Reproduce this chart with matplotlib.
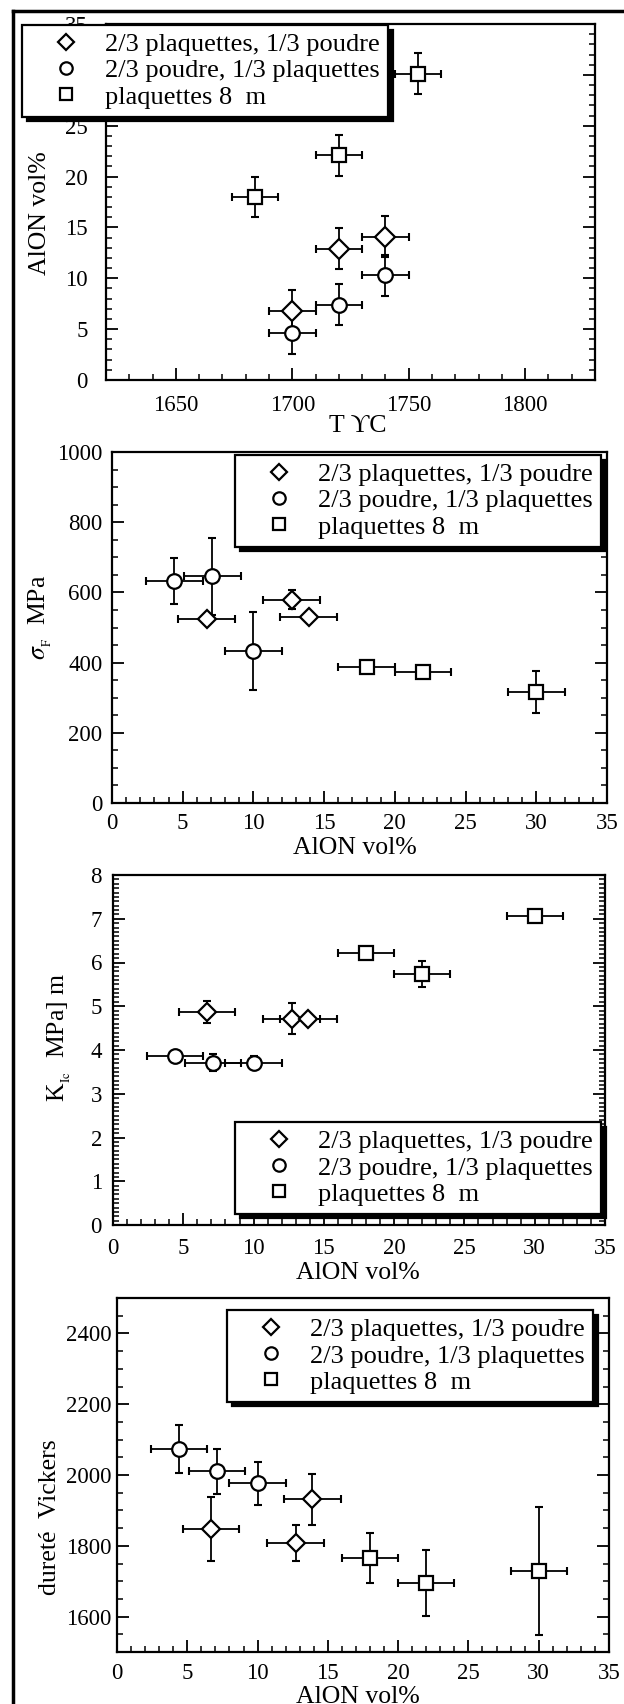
import numpy as np
import matplotlib.pyplot as plt
from matplotlib.ticker import MultipleLocator
from matplotlib.lines import Line2D

plt.rcParams['font.family'] = ['Liberation Serif', 'DejaVu Serif']
plt.rcParams['mathtext.fontset'] = 'stix'

# legend texts (the micro sign is missing in the original scan)
labels = ["2/3 plaquettes, 1/3 poudre", "2/3 poudre, 1/3 plaquettes", "plaquettes 8  m"]

# panel 1 : AlON content vs temperature
temp_diam = [1700, 1720, 1740]
temp_circ = [1700, 1720, 1740]
temp_sq = [1684, 1720, 1754]
temp_err = [10, 10, 10]
alon_t_diam = [6.8, 12.9, 14.1]
alon_t_circ = [4.6, 7.4, 10.3]
alon_t_sq = [18.0, 22.1, 30.1]
alon_t_err = [2, 2, 2]

# panels 2-4 : properties vs AlON content
alon_diam = [6.7, 12.7, 13.9]
alon_circ = [4.4, 7.1, 10.0]
alon_sq = [18.0, 22.0, 30.0]
alon_err = [2, 2, 2]

# flexural strength (MPa)
sigma_diam = [523, 579, 530]
sigma_diam_err = [10, 27, 15]
sigma_circ = [632, 646, 433]
sigma_circ_err = [65, 110, 110]
sigma_sq = [387, 373, 316]
sigma_sq_err = [10, 8, 60]

# toughness K_Ic
kic_diam = [4.87, 4.72, 4.70]
kic_diam_err = [0.25, 0.35, 0.08]
kic_circ = [3.87, 3.71, 3.71]
kic_circ_err = [0.05, 0.2, 0.15]
kic_sq = [6.21, 5.74, 7.06]
kic_sq_err = [0.12, 0.3, 0.1]

# Vickers hardness
hv_diam = [1847, 1808, 1932]
hv_diam_err = [91, 50, 72]
hv_circ = [2073, 2010, 1976]
hv_circ_err = [67, 63, 62]
hv_sq = [1765, 1695, 1728]
hv_sq_err = [70, 92, 181]

W, H = 624, 1704
fig = plt.figure(figsize=(W / 100, H / 100), dpi=100)


def add_axes(left, top, right, bottom):
    # pixel box -> figure fractions
    return fig.add_axes([left / W, 1 - bottom / H, (right - left) / W, (bottom - top) / H])


def draw_series(ax, x, y, xerr, yerr, marker, ms, label):
    ax.errorbar(x, y, xerr=xerr, yerr=yerr, fmt='none', ecolor='black',
                elinewidth=1.3, capsize=3, capthick=1.5, zorder=2)
    ax.plot(x, y, linestyle='none', marker=marker, ms=ms, mfc='white',
            mec='black', mew=1.6, label=label, zorder=3)


def style(ax, xmaj, xmin, ymaj, ymin, xpad, ypad):
    ax.xaxis.set_major_locator(MultipleLocator(xmaj))
    ax.xaxis.set_minor_locator(MultipleLocator(xmin))
    ax.yaxis.set_major_locator(MultipleLocator(ymaj))
    ax.yaxis.set_minor_locator(MultipleLocator(ymin))
    ax.tick_params(which='both', direction='in', top=False, right=True, labelsize=16.5)
    ax.tick_params(which='major', length=8.5, width=1.3)
    ax.tick_params(which='minor', length=4.5, width=1.1)
    ax.tick_params(axis='x', which='both', pad=xpad)
    ax.tick_params(axis='y', which='both', pad=ypad)
    for s in ax.spines.values():
        s.set_linewidth(1.6)


def add_legend(ax, left, top):
    leg = ax.legend(loc='upper left', bbox_to_anchor=(left / W, 1 - top / H),
                    bbox_transform=fig.transFigure, fontsize=19, frameon=True,
                    fancybox=False, shadow={'ox': 3.5, 'oy': -3.5, 'color': 'black', 'alpha': 1},
                    borderpad=0.3, handlelength=2.7, handletextpad=0.15,
                    labelspacing=0.1, borderaxespad=0, markerscale=0.85)
    leg.get_frame().set_edgecolor('black')
    leg.get_frame().set_linewidth(1.6)
    leg.set_zorder(10)


def set_labels(ax, xlabel, ylabel, xpos, ypos, xva='center'):
    ax.set_xlabel(xlabel, fontsize=18.5, va=xva)
    ax.set_ylabel(ylabel, fontsize=18.5, va='center')
    ax.xaxis.set_label_coords(*xpos)
    ax.yaxis.set_label_coords(*ypos)


# ---- panel 1 ----
ax1 = add_axes(106, 24, 595, 380)
draw_series(ax1, temp_diam, alon_t_diam, temp_err, alon_t_err, 'D', 10, labels[0])
draw_series(ax1, temp_circ, alon_t_circ, temp_err, alon_t_err, 'o', 10.5, labels[1])
draw_series(ax1, temp_sq, alon_t_sq, temp_err, alon_t_err, 's', 10, labels[2])
ax1.set_xlim(1620, 1830)
ax1.set_ylim(0, 35)
style(ax1, 50, 10, 5, 1, 11, 13)
set_labels(ax1, "T ϒC", "AlON vol%", (0.515, -0.13), (-0.135, 0.47))
add_legend(ax1, 22, 25)

# ---- panel 2 ----
ax2 = add_axes(112, 452, 607, 803)
draw_series(ax2, alon_diam, sigma_diam, alon_err, sigma_diam_err, 'D', 9, labels[0])
draw_series(ax2, alon_circ, sigma_circ, alon_err, sigma_circ_err, 'o', 10.5, labels[1])
draw_series(ax2, alon_sq, sigma_sq, alon_err, sigma_sq_err, 's', 10, labels[2])
ax2.set_xlim(0, 35)
ax2.set_ylim(0, 1000)
style(ax2, 5, 1, 200, 50, 7.5, 7)
set_labels(ax2, "AlON vol%", r"$\sigma_{_\mathrm{F}}$  MPa", (0.49, -0.128), (-0.145, 0.53))
add_legend(ax2, 235, 455)

# ---- panel 3 ----
ax3 = add_axes(113, 875, 605, 1225)
draw_series(ax3, alon_diam, kic_diam, alon_err, kic_diam_err, 'D', 9, labels[0])
draw_series(ax3, alon_circ, kic_circ, alon_err, kic_circ_err, 'o', 10.5, labels[1])
draw_series(ax3, alon_sq, kic_sq, alon_err, kic_sq_err, 's', 10, labels[2])
ax3.set_xlim(0, 35)
ax3.set_ylim(0, 8)
style(ax3, 5, 1, 1, 0.1, 9, 8)
set_labels(ax3, "AlON vol%", r"K$_{_\mathrm{Ic}}$  MPa] m", (0.498, -0.137), (-0.108, 0.537))
add_legend(ax3, 235, 1122)

# ---- panel 4 ----
ax4 = add_axes(117, 1298, 609, 1652)
draw_series(ax4, alon_diam, hv_diam, alon_err, hv_diam_err, 'D', 9, labels[0])
draw_series(ax4, alon_circ, hv_circ, alon_err, hv_circ_err, 'o', 10.5, labels[1])
draw_series(ax4, alon_sq, hv_sq, alon_err, hv_sq_err, 's', 10, labels[2])
ax4.set_xlim(0, 35)
ax4.set_ylim(1500, 2500)
style(ax4, 5, 1, 200, 50, 8.2, 4)
# bottom label sits at the page edge, as in the scan
set_labels(ax4, "AlON vol%", "dureté  Vickers", (0.49, -0.097), (-0.136, 0.38), xva='top')
add_legend(ax4, 227, 1310)

# page frame of the scanned figure (left and top rules)
fig.add_artist(Line2D([13 / W, 13 / W], [1 - 11 / H, 0], color='black', lw=2.5, transform=fig.transFigure))
fig.add_artist(Line2D([13 / W, 1], [1 - 11 / H, 1 - 11 / H], color='black', lw=2.5, transform=fig.transFigure))

fig.savefig("out.png", dpi=100)
